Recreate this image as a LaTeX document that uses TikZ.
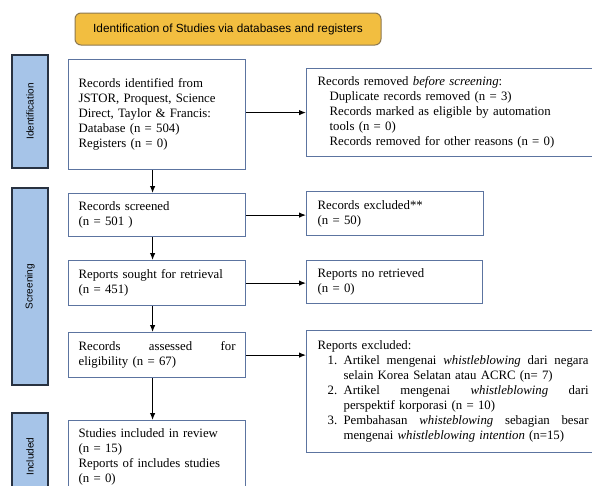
\documentclass[tikz,border=0pt]{standalone}
\usepackage{fontspec}
\setmainfont{Liberation Serif}
\setsansfont{Liberation Sans}
\usepackage{tikz}
\usetikzlibrary{arrows.meta}
\definecolor{boxline}{RGB}{92,116,160}
\definecolor{barfill}{RGB}{166,196,232}
\definecolor{barline}{RGB}{40,50,65}
\definecolor{hdrfill}{RGB}{242,190,64}
\definecolor{hdrline}{RGB}{140,120,80}
\newcommand{\fillline}[2]{\makebox[#1][s]{#2}}

\begin{document}
\begin{tikzpicture}[x=1pt,y=-1pt,
	box/.style={draw=boxline,line width=1.2pt,fill=white,anchor=north west,inner xsep=10pt,inner ysep=2pt,align=left,font=\rmfamily\fontsize{12.8}{15.1}\selectfont},
	bar/.style={draw=barline,line width=1.2pt,fill=barfill,rotate=90,minimum height=36pt,inner sep=0pt,font=\sffamily\fontsize{10}{12}\selectfont},
	header/.style={draw=hdrline,line width=1pt,fill=hdrfill,rounded corners=6pt,minimum width=306pt,minimum height=32pt,font=\sffamily\fontsize{11.8}{14}\selectfont},
	flow/.style={-{Latex[length=7pt,width=5.5pt]},line width=1.1pt}]
	\useasboundingbox (0,0) rectangle (592,485);
	\clip (0,0) rectangle (592,485);
	\node[header] (hdr) at (228,29) {Identification of Studies via databases and registers};
	\foreach \n/\t/\y/\l in {idbar/Identification/111.5/113,scbar/Screening/286.5/197,inbar/Included/456.5/87} \node[bar,minimum width=\l pt] (\n) at (30,\y) {\t};
	\node[box,text width=157pt,minimum height=110pt] (recid) at (68,59) {Records identified from\\JSTOR, Proquest, Science\\Direct, Taylor \& Francis:\\Database (n = 504)\\Registers (n = 0)};
	\node[box,text width=157pt,minimum height=43pt] (recscr) at (68,193) {Records screened\\(n = 501 )};
	\node[box,text width=157pt,minimum height=45pt] (sought) at (68,260) {Reports sought for retrieval\\(n = 451)};
	\node[box,text width=157pt,minimum height=45pt] (assess) at (68,332) {\fillline{157pt}{Records\hfill assessed\hfill for}\\eligibility (n = 67)};
	\node[box,text width=157pt,minimum height=72pt] (incl) at (68,420) {Studies included in review\\(n = 15)\\Reports of includes studies\\(n = 0)};
	\node[box,inner xsep=11pt,text width=275pt,minimum height=88pt] (remov) at (306,68) {Records removed \textit{before screening}:\\\hspace*{12pt}Duplicate records removed (n = 3)\\\hspace*{12pt}Records marked as eligible by automation\\\hspace*{12pt}tools (n = 0)\\\hspace*{12pt}Records removed for other reasons (n = 0)};
	\node[box,inner xsep=11pt,text width=155pt,minimum height=44pt] (excl) at (306,191) {Records excluded**\\(n = 50)};
	\node[box,inner xsep=11pt,text width=154pt,minimum height=43pt] (noret) at (306,260) {Reports no retrieved\\(n = 0)};
	\node[box,inner xsep=11pt,text width=272pt,minimum height=122pt] (repexc) at (306,330) {Reports excluded:\\
		\hspace*{10pt}\makebox[16pt][l]{1.}\fillline{245pt}{Artikel\hfill mengenai\hfill \textit{whistleblowing}\hfill dari\hfill negara}\\
		\hspace*{26pt}selain Korea Selatan atau ACRC (n= 7)\\
		\hspace*{10pt}\makebox[16pt][l]{2.}\fillline{245pt}{Artikel\hfill mengenai\hfill \textit{whistleblowing}\hfill dari}\\
		\hspace*{26pt}perspektif korporasi (n = 10)\\
		\hspace*{10pt}\makebox[16pt][l]{3.}\fillline{245pt}{Pembahasan\hfill \textit{whisteblowing}\hfill sebagian\hfill besar}\\
		\hspace*{26pt}mengenai \textit{whistleblowing intention} (n=15)};
	\foreach \a/\b in {recid/recscr,recscr/sought,sought/assess,assess/incl} \draw[flow] ([xshift=-4.5pt]\a.south) -- ([xshift=-4.5pt]\b.north);
	\draw[flow] (recid.east |- remov.west) -- (remov.west);
	\foreach \a/\b in {recscr/excl,sought/noret,assess/repexc} \draw[flow] (\a.east) -- (\a.east -| \b.west);
\end{tikzpicture}
\end{document}
